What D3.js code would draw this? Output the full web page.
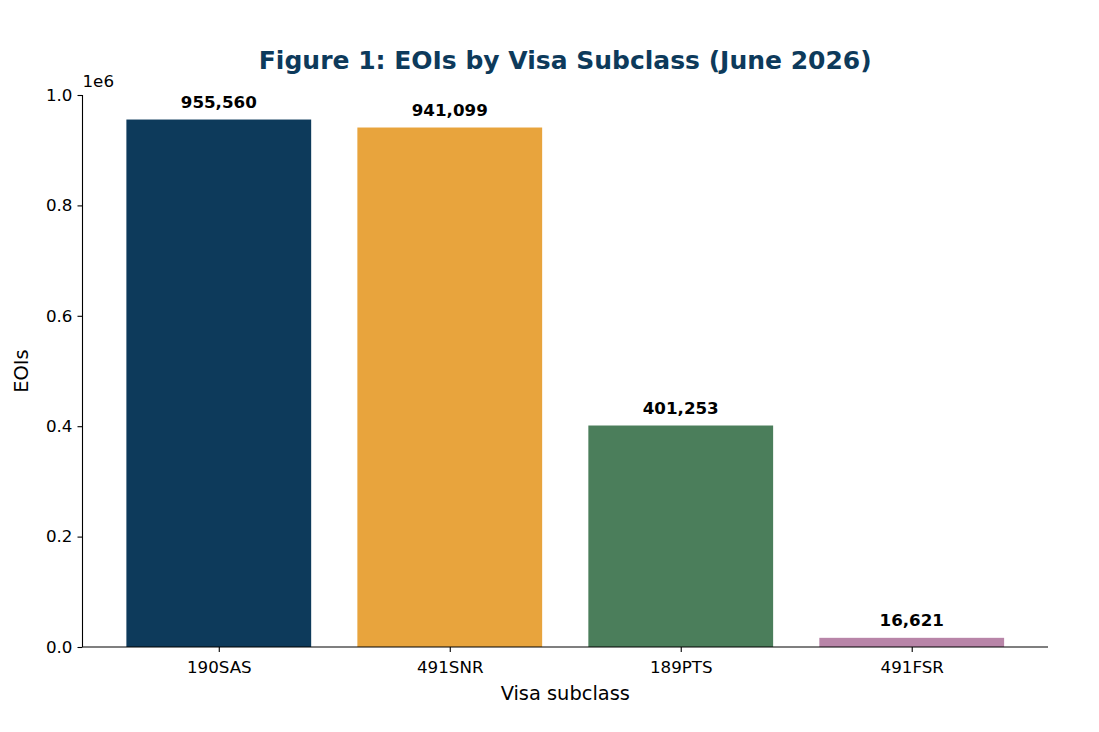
<!DOCTYPE html>
<html lang="en">
<head>
<meta charset="utf-8">
<title>EOIs by Visa Subclass</title>
<script src="https://cdn.jsdelivr.net/npm/d3@7"></script>
<style>
  body { margin: 0; background: #fff; }
  svg { font-family: "DejaVu Sans", sans-serif; }
  .axis path, .axis line { stroke: #000; stroke-width: 1.1; }
  .axis text { fill: #000; font-size: 16.7px; font-family: "DejaVu Sans", sans-serif; }
</style>
</head>
<body>
<script>
// data
var categories = ["190SAS", "491SNR", "189PTS", "491FSR"];
var eois = [955560, 941099, 401253, 16621];
var barColors = ["#0d3a5b", "#e8a43d", "#4b7e5b", "#b885a8"];
var yTicks = [0, 0.2e6, 0.4e6, 0.6e6, 0.8e6, 1.0e6];

var w = 1099, h = 732;
var plotLeft = 82.5, plotRight = 1048, plotTop = 95, plotBottom = 647;

var svg = d3.select("body").append("svg")
  .attr("width", w)
  .attr("height", h);

// matplotlib-like bar layout: bar width 0.8, margins 5%
var xScale = d3.scaleLinear()
  .domain([-0.59, categories.length - 1 + 0.59])
  .range([plotLeft, plotRight]);

var yScale = d3.scaleLinear()
  .domain([0, 1.0e6])
  .range([plotBottom, plotTop]);

var bw = xScale(0.8) - xScale(0);

svg.selectAll("rect.bar")
  .data(eois)
  .enter()
  .append("rect")
  .attr("class", "bar")
  .attr("x", function(d, i) { return xScale(i) - bw / 2; })
  .attr("y", function(d) { return yScale(d); })
  .attr("width", bw)
  .attr("height", function(d) { return plotBottom - yScale(d); })
  .attr("fill", function(d, i) { return barColors[i]; });

// value labels
svg.selectAll("text.val")
  .data(eois)
  .enter()
  .append("text")
  .attr("class", "val")
  .attr("x", function(d, i) { return xScale(i); })
  .attr("y", function(d) { return yScale(d) - 12; })
  .attr("text-anchor", "middle")
  .attr("font-size", "16.7px")
  .attr("font-weight", "bold")
  .text(function(d) { return d3.format(",")(d); });

// axes
var xAxis = d3.axisBottom(xScale)
  .tickValues(d3.range(categories.length))
  .tickFormat(function(i) { return categories[i]; })
  .tickSize(5)
  .tickPadding(9);

svg.append("g")
  .attr("class", "axis")
  .attr("transform", "translate(0," + plotBottom + ")")
  .call(xAxis)
  .call(function(g) { g.select(".domain").attr("d", "M" + plotLeft + ",0H" + plotRight); });

var yAxis = d3.axisLeft(yScale)
  .tickValues(yTicks)
  .tickFormat(function(d) { return (d / 1e6).toFixed(1); })
  .tickSize(5)
  .tickPadding(5);

svg.append("g")
  .attr("class", "axis")
  .attr("transform", "translate(" + plotLeft + ",0)")
  .call(yAxis)
  .call(function(g) { g.select(".domain").attr("d", "M0," + plotBottom + "V" + plotTop); });

// offset text
svg.append("text")
  .attr("x", plotLeft)
  .attr("y", 87)
  .attr("font-size", "16.7px")
  .text("1e6");

// title and labels
svg.append("text")
  .attr("x", (plotLeft + plotRight) / 2)
  .attr("y", 69)
  .attr("text-anchor", "middle")
  .attr("font-size", "25px")
  .attr("font-weight", "bold")
  .attr("fill", "#0d3a5b")
  .text("Figure 1: EOIs by Visa Subclass (June 2026)");

svg.append("text")
  .attr("x", (plotLeft + plotRight) / 2)
  .attr("y", 700)
  .attr("text-anchor", "middle")
  .attr("font-size", "19.4px")
  .text("Visa subclass");

svg.append("text")
  .attr("transform", "translate(28," + ((plotTop + plotBottom) / 2) + ") rotate(-90)")
  .attr("text-anchor", "middle")
  .attr("font-size", "19.4px")
  .text("EOIs");
</script>
</body>
</html>
